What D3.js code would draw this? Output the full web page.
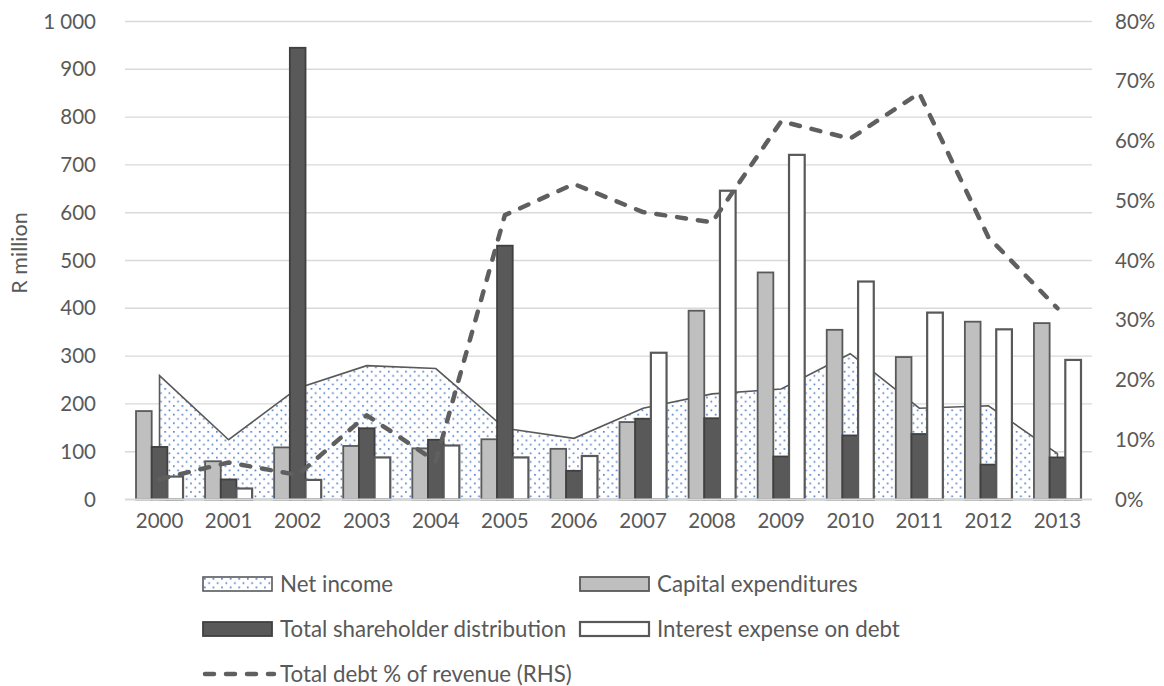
<!DOCTYPE html>
<html>
<head>
<meta charset="utf-8">
<script src="https://cdn.jsdelivr.net/npm/d3@7/dist/d3.min.js"></script>
<style>
  body { margin: 0; background: #fff; }
  text { font-family: Lato, "Open Sans", sans-serif; fill: #595959; }
</style>
</head>
<body>
<svg id="chart" width="1164" height="686"></svg>
<script>
// Annual figures, R million (bars/area) and debt ratio in % (line, right axis)
const years = ["2000","2001","2002","2003","2004","2005","2006","2007","2008","2009","2010","2011","2012","2013"];
const netIncome = [259, 125, 233, 280, 274, 149, 128, 191, 221, 231, 305, 191, 196, 96];
const capex = [185, 80, 109, 112, 107, 126, 106, 162, 395, 475, 355, 298, 372, 369];
const shareholderDist = [110, 42, 945, 149, 125, 531, 60, 169, 170, 90, 134, 137, 73, 88];
const interestExpense = [48, 23, 41, 88, 113, 88, 91, 307, 646, 721, 456, 391, 356, 292];
const debtPctRevenue = [3.4, 6.2, 4.1, 14.1, 6.4, 47.6, 52.8, 48.1, 46.4, 63.3, 60.4, 68.0, 43.9, 32.0];
const leftTicks = [0, 100, 200, 300, 400, 500, 600, 700, 800, 900, 1000];
const rightTicks = [0, 10, 20, 30, 40, 50, 60, 70, 80];

const barSeries = [
  { name: "Capital expenditures", values: capex, fill: "#bfbfbf", stroke: "#595959", sw: 1.8 },
  { name: "Total shareholder distribution", values: shareholderDist, fill: "#595959", stroke: "#404040", sw: 1.8 },
  { name: "Interest expense on debt", values: interestExpense, fill: "#ffffff", stroke: "#595959", sw: 2.2 }
];

const svg = d3.select("#chart");
const plot = { left: 125, right: 1092, top: 21.5, bottom: 499.5 };

const x = d3.scaleBand().domain(years).range([plot.left, plot.right])
  .paddingInner(0.319).paddingOuter(0.1595);
const xSub = d3.scaleBand().domain(d3.range(barSeries.length)).range([0, x.bandwidth()]);
const y = d3.scaleLinear().domain([0, 1000]).range([plot.bottom, plot.top]);
const yR = d3.scaleLinear().domain([0, 80]).range([plot.bottom, plot.top]);
const cx = d => x(d) + x.bandwidth() / 2;

const locale = d3.formatLocale({ decimal: ".", thousands: "\u00a0", grouping: [3], currency: ["", ""] });
const fmtLeft = locale.format(",");

// dotted fill for the net income area
const defs = svg.append("defs");
const pat = defs.append("pattern").attr("id", "dots")
  .attr("patternUnits", "userSpaceOnUse").attr("width", 8.6).attr("height", 8.6);
pat.append("rect").attr("width", 8.6).attr("height", 8.6).attr("fill", "#fff");
pat.append("rect").attr("x", 1).attr("y", 1).attr("width", 1.6).attr("height", 1.6).attr("fill", "#4472c4");
pat.append("rect").attr("x", 5.3).attr("y", 5.3).attr("width", 1.6).attr("height", 1.6).attr("fill", "#4472c4");

// gridlines
svg.append("g").selectAll("line").data(leftTicks.filter(t => t > 0)).join("line")
  .attr("x1", plot.left).attr("x2", plot.right)
  .attr("y1", d => y(d)).attr("y2", d => y(d))
  .attr("stroke", "#d9d9d9").attr("stroke-width", 1.4);

// left axis
const leftAxis = svg.append("g").attr("transform", `translate(${plot.left},0)`)
  .call(d3.axisLeft(y).tickValues(leftTicks).tickFormat(fmtLeft).tickSize(0).tickPadding(29));
leftAxis.select(".domain").remove();
leftAxis.selectAll("text").style("font-size", "20.5px").attr("fill", "#595959");

// right axis
const rightAxis = svg.append("g").attr("transform", `translate(${plot.right},0)`)
  .call(d3.axisRight(yR).tickValues(rightTicks).tickFormat(d => d + "%").tickSize(0).tickPadding(23));
rightAxis.select(".domain").remove();
rightAxis.selectAll("text").style("font-size", "20.5px").attr("fill", "#595959");

// net income area
const area = d3.area().x((d, i) => cx(years[i])).y0(y(0)).y1(d => y(d));
svg.append("path").datum(netIncome).attr("d", area)
  .attr("fill", "url(#dots)").attr("stroke", "#595959").attr("stroke-width", 1.6)
  .attr("stroke-linejoin", "miter");

// clustered bars
const groups = svg.append("g").selectAll("g").data(barSeries).join("g");
groups.each(function (s, si) {
  d3.select(this).selectAll("rect").data(s.values).join("rect")
    .attr("x", (d, i) => x(years[i]) + xSub(si))
    .attr("width", xSub.bandwidth())
    .attr("y", d => y(d))
    .attr("height", d => y(0) - y(d))
    .attr("fill", s.fill).attr("stroke", s.stroke).attr("stroke-width", s.sw);
});

// baseline
svg.append("line").attr("x1", plot.left).attr("x2", plot.right)
  .attr("y1", y(0)).attr("y2", y(0)).attr("stroke", "#d9d9d9").attr("stroke-width", 2);

// x axis labels
const xAxis = svg.append("g").attr("transform", `translate(0,${plot.bottom})`)
  .call(d3.axisBottom(x).tickSize(0).tickPadding(14));
xAxis.select(".domain").remove();
xAxis.selectAll("text").style("font-size", "20.5px").attr("fill", "#595959");

// debt ratio line
const line = d3.line().x((d, i) => cx(years[i])).y(d => yR(d));
svg.append("path").datum(debtPctRevenue).attr("d", line)
  .attr("fill", "none").attr("stroke", "#5f5f5f").attr("stroke-width", 4.5)
  .attr("stroke-dasharray", "9,12").attr("stroke-linecap", "round").attr("stroke-linejoin", "round");

// y-axis title
svg.append("text").attr("transform", "translate(27,253) rotate(-90)")
  .attr("text-anchor", "middle").style("font-size", "21.5px").text("R million");

// legend
const legend = svg.append("g");
const sw = 69, sh = 14;
const items = [
  { x: 203, y: 577, label: "Net income", kind: "area" },
  { x: 580, y: 577, label: barSeries[0].name, kind: "bar", s: barSeries[0] },
  { x: 203, y: 622, label: barSeries[1].name, kind: "bar", s: barSeries[1] },
  { x: 580, y: 622, label: barSeries[2].name, kind: "bar", s: barSeries[2] },
  { x: 203, y: 667, label: "Total debt % of revenue (RHS)", kind: "line" }
];
items.forEach(it => {
  const g = legend.append("g").attr("transform", `translate(${it.x},${it.y})`);
  if (it.kind === "area") {
    g.append("rect").attr("width", sw).attr("height", sh)
      .attr("fill", "url(#dots)").attr("stroke", "#595959").attr("stroke-width", 1.6);
  } else if (it.kind === "bar") {
    g.append("rect").attr("width", sw).attr("height", sh)
      .attr("fill", it.s.fill).attr("stroke", it.s.stroke).attr("stroke-width", it.s.sw);
  } else {
    g.append("line").attr("x1", 2).attr("x2", sw + 2).attr("y1", sh / 2).attr("y2", sh / 2)
      .attr("stroke", "#5f5f5f").attr("stroke-width", 4.5)
      .attr("stroke-dasharray", "9,12").attr("stroke-linecap", "round");
  }
  g.append("text").attr("x", sw + 8).attr("y", sh / 2).attr("dy", "0.36em")
    .style("font-size", "22.3px").text(it.label);
});
</script>
</body>
</html>
